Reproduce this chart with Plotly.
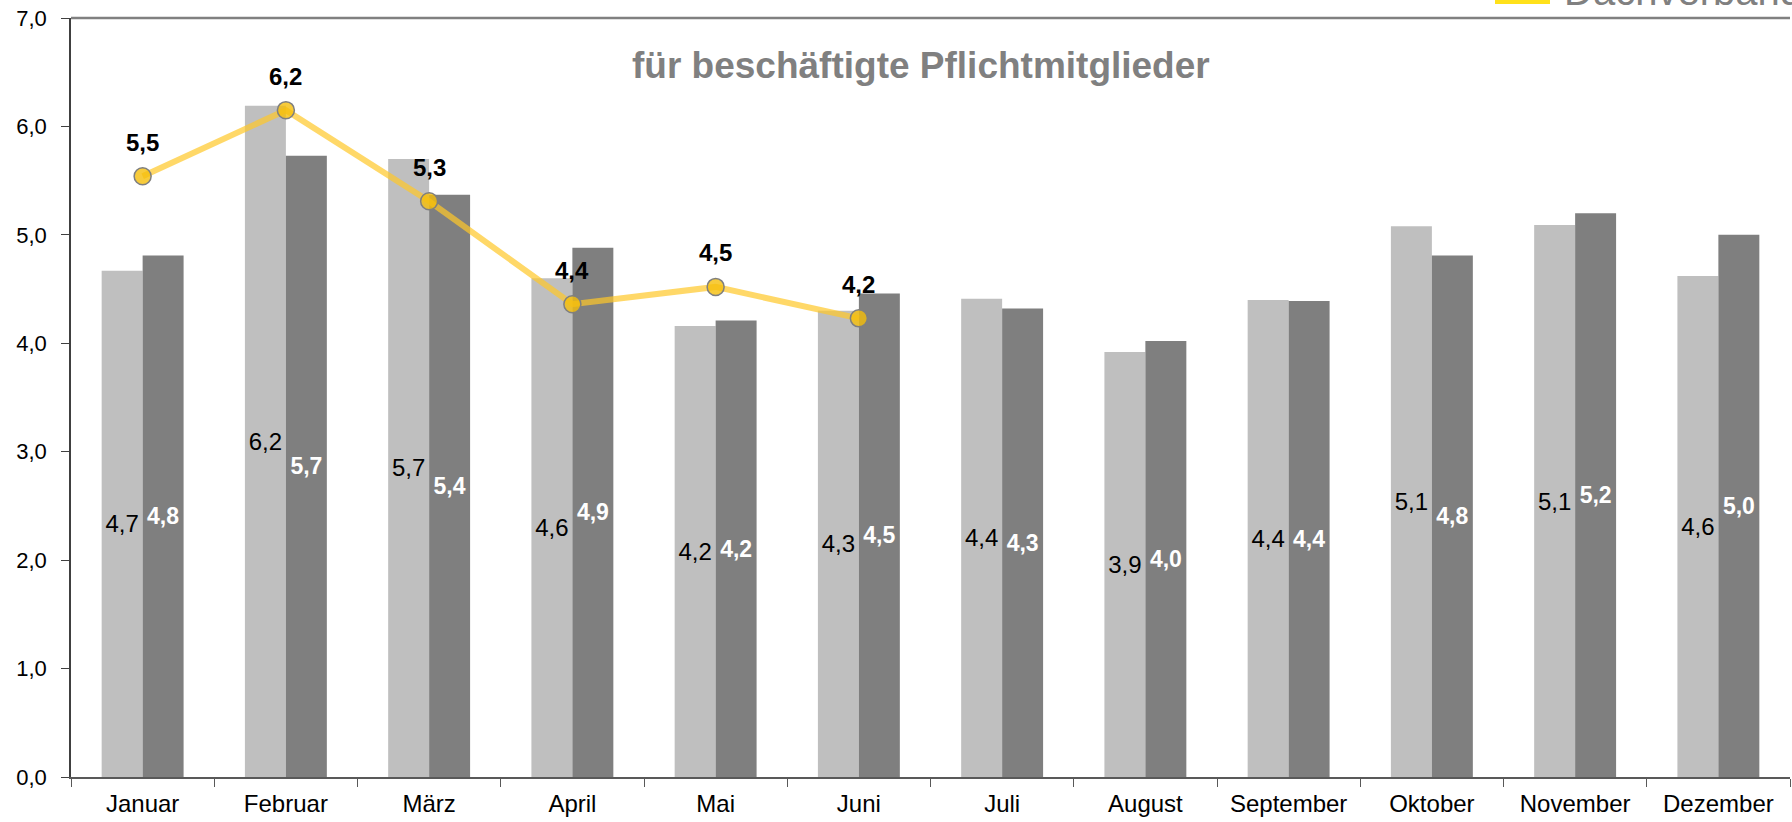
import plotly.graph_objects as go

months = ["Januar", "Februar", "März", "April", "Mai", "Juni", "Juli",
          "August", "September", "Oktober", "November", "Dezember"]
series_a = [4.67, 6.19, 5.70, 4.60, 4.16, 4.30, 4.41, 3.92, 4.40, 5.08, 5.09, 4.62]
series_b = [4.81, 5.73, 5.37, 4.88, 4.21, 4.46, 4.32, 4.02, 4.39, 4.81, 5.20, 5.00]
line_months = ["Januar", "Februar", "März", "April", "Mai", "Juni"]
line_values = [5.54, 6.15, 5.31, 4.36, 4.52, 4.23]
y_ticks = [0, 1, 2, 3, 4, 5, 6, 7]

FONT = "Liberation Sans, Arial, sans-serif"

fig = go.Figure()
fig.add_trace(go.Bar(
    x=months, y=series_a, name="Vorjahr",
    marker=dict(color="#BFBFBF", line=dict(width=0)),
    texttemplate="%{y:.1f}", textposition="inside", insidetextanchor="middle",
    textangle=0, constraintext="none",
    textfont=dict(family=FONT, size=24, color="#000000"),
))
fig.add_trace(go.Bar(
    x=months, y=series_b, name="Durchschnitt",
    marker=dict(color="#7F7F7F", line=dict(width=0)),
    texttemplate="<b>%{y:.1f}</b>", textposition="inside", insidetextanchor="middle",
    textangle=0, constraintext="none",
    textfont=dict(family=FONT, size=23, color="#FFFFFF"),
))
fig.add_trace(go.Scatter(
    x=line_months, y=line_values, name="aktuelles Jahr", mode="lines+markers",
    line=dict(color="rgba(255,200,40,0.7)", width=6),
    marker=dict(size=17, color="rgba(245,190,10,0.8)",
                line=dict(color="#7F7F7F", width=1.5)),
))

annotations = []
for m, v in zip(line_months, line_values):
    annotations.append(dict(
        x=m, y=v, xref="x", yref="y", yshift=34, showarrow=False,
        text="<b>" + f"{v:.1f}".replace(".", ",") + "</b>",
        font=dict(family=FONT, size=24, color="#000000"),
    ))
annotations.append(dict(
    x=0.4945, y=0.937, xref="paper", yref="paper", showarrow=False,
    xanchor="center", yanchor="middle",
    text="<b>für beschäftigte Pflichtmitglieder</b>",
    font=dict(family=FONT, size=37, color="#808080"),
))
annotations.append(dict(
    x=(1562 - 71) / 1719, y=1.004, xref="paper", yref="paper", showarrow=False,
    xanchor="left", yanchor="bottom",
    text="Dachverband",
    font=dict(family=FONT, size=40, color="#808080"),
))

fig.update_layout(
    width=1792, height=822, autosize=False,
    margin=dict(l=71, r=2, t=18, b=45),
    paper_bgcolor="white", plot_bgcolor="white",
    separators=",.",
    barmode="group", bargap=0.428, bargroupgap=0,
    showlegend=False,
    font=dict(family=FONT, color="#000000"),
    annotations=annotations,
    shapes=[
        dict(type="line", xref="paper", yref="paper", x0=0, x1=1, y0=1, y1=1,
             line=dict(color="#808080", width=2.5)),
        dict(type="rect", xref="paper", yref="paper",
             x0=(1495 - 71) / 1719, x1=(1550 - 71) / 1719,
             y0=1 + 14 / 759, y1=1.04, fillcolor="#FFE11A", line=dict(width=0)),
    ],
    xaxis=dict(
        type="category", range=[-0.5, 11.5], autorange=False,
        showline=True, linecolor="#595959", linewidth=2,
        ticks="outside", tickson="boundaries", ticklen=8, tickcolor="#595959",
        tickwidth=1.2, showgrid=False, zeroline=False,
        tickfont=dict(family=FONT, size=24, color="#000000"),
        ticklabelstandoff=4,
    ),
    yaxis=dict(
        range=[0, 7], tickvals=y_ticks, tickformat=".1f",
        showline=True, linecolor="#404040", linewidth=1.5,
        ticks="outside", ticklen=8, tickcolor="#404040", tickwidth=1.2,
        showgrid=False, zeroline=False,
        tickfont=dict(family=FONT, size=22, color="#000000"),
        ticklabelstandoff=10,
    ),
)

fig.write_html("out.html", config={"displayModeBar": False},
               post_script="document.body.style.margin='0';")
